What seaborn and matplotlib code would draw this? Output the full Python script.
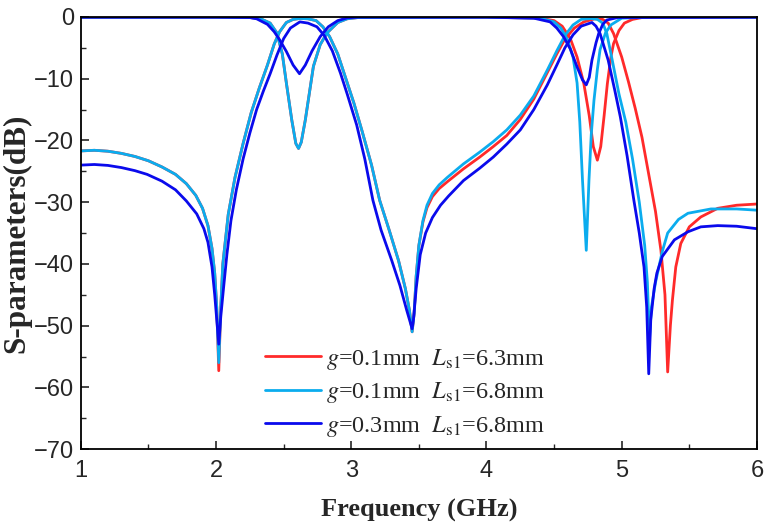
import matplotlib
matplotlib.use("Agg")
import matplotlib.pyplot as plt
import seaborn as sns
import pandas as pd

# ---------------- data ----------------
labels = [r"$g$=0.1mm  $L_{\mathrm{s1}}$=6.3mm",
          r"$g$=0.1mm  $L_{\mathrm{s1}}$=6.8mm",
          r"$g$=0.3mm  $L_{\mathrm{s1}}$=6.8mm"]
colors = ["#FF2A2A", "#0BACEE", "#0A0AEC"]

# g=0.1mm Ls1=6.8mm (light blue)
lb21_f = [1.00, 1.10, 1.20, 1.30, 1.40, 1.50, 1.60, 1.70, 1.78, 1.85, 1.90, 1.94, 1.97, 1.99, 2.005, 2.02,
          2.035, 2.05, 2.09, 2.14, 2.20, 2.26, 2.32, 2.38, 2.43, 2.47, 2.52, 2.57, 2.62, 2.68, 2.74, 2.79,
          2.84, 2.90, 2.96, 3.02, 3.08, 3.15, 3.21, 3.28, 3.35, 3.40, 3.43, 3.45, 3.465, 3.48, 3.50, 3.53,
          3.56, 3.60, 3.65, 3.71, 3.83, 3.95, 4.05, 4.15, 4.25, 4.35, 4.45, 4.52, 4.58, 4.64, 4.70, 4.77,
          4.82, 4.86, 4.89, 4.93, 4.98, 5.03, 5.08, 5.13, 5.17, 5.19, 5.205, 5.22, 5.25, 5.30, 5.34, 5.42,
          5.49, 5.66, 5.85, 6.00]
lb21_db = [-21.7, -21.6, -21.75, -22.1, -22.6, -23.3, -24.3, -25.5, -27.0, -28.9, -31.0, -33.8, -37.5, -41.5, -47.0, -56.0,
           -47.0, -40.0, -32.0, -26.0, -20.5, -15.5, -11.5, -7.8, -4.4, -2.4, -0.9, -0.4, -0.25, -0.3, -0.6, -1.6,
           -3.2, -6.0, -10.0, -14.0, -18.5, -24.0, -29.7, -34.5, -39.5, -44.0, -47.5, -51.0, -48.0, -42.0, -37.0, -33.0,
           -30.5, -28.6, -27.2, -26.0, -23.8, -21.9, -20.2, -18.3, -15.9, -12.8, -8.6, -5.5, -3.0, -1.3, -0.4, -0.25,
           -0.4, -1.0, -2.7, -7.0, -12.5, -17.0, -23.0, -30.0, -37.0, -43.0, -52.4, -47.0, -43.0, -38.0, -35.0, -32.8,
           -31.8, -31.1, -31.1, -31.3]
lb11_f = [1.00, 2.00, 2.25, 2.33, 2.40, 2.45, 2.49, 2.52, 2.56, 2.59, 2.61, 2.63, 2.66, 2.72, 2.77, 2.82,
          2.90, 2.97, 3.05, 4.00, 4.40, 4.50, 4.55, 4.60, 4.64, 4.67, 4.69, 4.71, 4.738, 4.758, 4.775, 4.795,
          4.82, 4.84, 4.88, 4.92, 5.00, 5.20, 6.00]
lb11_db = [-0.05, -0.05, -0.1, -0.3, -1.0, -2.6, -6.0, -10.7, -16.7, -20.5, -21.3, -20.3, -16.7, -8.0, -4.5, -2.6,
           -0.9, -0.3, -0.1, -0.05, -0.2, -0.8, -1.8, -3.7, -6.5, -10.7, -17.0, -26.4, -37.8, -26.4, -19.0, -13.5,
           -8.5, -5.3, -2.6, -1.3, -0.2, -0.05, -0.05]

# g=0.1mm Ls1=6.3mm (red) - below 3.5 GHz hidden under the light-blue traces
rd21_f = [1.00, 1.10, 1.20, 1.30, 1.40, 1.50, 1.60, 1.70, 1.78, 1.85, 1.90, 1.94, 1.97, 1.99, 2.005, 2.02,
          2.035, 2.05, 2.09, 2.14, 2.20, 2.26, 2.32, 2.38, 2.43, 2.47, 2.52, 2.57, 2.62, 2.68, 2.74, 2.79,
          2.84, 2.90, 2.96, 3.02, 3.08, 3.15, 3.21, 3.28, 3.35, 3.40, 3.43, 3.45, 3.465, 3.48, 3.50, 3.53,
          3.56, 3.60, 3.65, 3.71, 3.83, 3.95, 4.05, 4.15, 4.25, 4.35, 4.45, 4.52, 4.58, 4.65, 4.72, 4.80,
          4.86, 4.90, 4.94, 5.00, 5.05, 5.10, 5.15, 5.20, 5.25, 5.29, 5.32, 5.34, 5.36, 5.375, 5.40, 5.437,
          5.50, 5.585, 5.71, 5.85, 6.00]
rd21_db = [-21.7, -21.6, -21.75, -22.1, -22.6, -23.3, -24.3, -25.5, -27.0, -28.9, -31.0, -33.8, -37.5, -41.5, -47.0, -57.3,
           -47.0, -40.0, -32.0, -26.0, -20.5, -15.5, -11.5, -7.8, -4.4, -2.4, -0.9, -0.4, -0.25, -0.3, -0.6, -1.6,
           -3.2, -6.0, -10.0, -14.0, -18.5, -24.0, -29.7, -34.5, -39.5, -44.0, -47.5, -51.0, -48.0, -42.0, -37.0, -33.2,
           -30.9, -29.1, -27.8, -26.7, -24.6, -22.7, -21.0, -19.2, -16.6, -13.3, -9.0, -6.0, -3.6, -1.8, -0.8, -0.3,
           -0.4, -1.0, -2.7, -6.5, -10.5, -14.8, -19.5, -25.5, -31.5, -37.8, -45.0, -57.5, -50.0, -45.9, -40.5, -36.7,
           -34.0, -32.4, -31.0, -30.5, -30.3]
rd11_f = [1.00, 2.00, 2.25, 2.33, 2.40, 2.45, 2.49, 2.52, 2.56, 2.59, 2.61, 2.63, 2.66, 2.72, 2.77, 2.82,
          2.90, 2.97, 3.05, 4.00, 4.40, 4.50, 4.56, 4.62, 4.67, 4.72, 4.76, 4.79, 4.82, 4.845, 4.87, 4.894,
          4.92, 4.94, 4.98, 5.02, 5.08, 5.15, 6.00]
rd11_db = [-0.05, -0.05, -0.1, -0.3, -1.0, -2.6, -6.0, -10.7, -16.7, -20.5, -21.3, -20.3, -16.7, -8.0, -4.5, -2.6,
           -0.9, -0.3, -0.1, -0.05, -0.2, -0.6, -1.5, -3.5, -6.5, -10.8, -16.0, -21.0, -23.2, -21.0, -16.0, -10.8,
           -6.5, -4.3, -2.2, -1.0, -0.4, -0.1, -0.05]

# g=0.3mm Ls1=6.8mm (dark blue)
db21_f = [1.00, 1.10, 1.20, 1.30, 1.40, 1.49, 1.60, 1.70, 1.78, 1.857, 1.91, 1.94, 1.97, 1.99, 2.005, 2.02,
          2.035, 2.054, 2.08, 2.11, 2.15, 2.20, 2.25, 2.30, 2.35, 2.40, 2.45, 2.50, 2.55, 2.62, 2.68, 2.746,
          2.80, 2.86, 2.92, 2.97, 3.04, 3.10, 3.16, 3.22, 3.30, 3.36, 3.41, 3.45, 3.46, 3.48, 3.51, 3.55,
          3.60, 3.66, 3.72, 3.83, 3.95, 4.05, 4.15, 4.25, 4.35, 4.45, 4.52, 4.58, 4.64, 4.70, 4.78, 4.81,
          4.84, 4.90, 4.95, 4.99, 5.04, 5.09, 5.13, 5.165, 5.185, 5.20, 5.215, 5.24, 5.26, 5.30, 5.39, 5.49,
          5.585, 5.71, 5.85, 6.00]
db21_db = [-24.0, -23.9, -24.05, -24.4, -24.9, -25.5, -26.6, -28.0, -29.8, -31.9, -34.3, -36.5, -40.5, -45.0, -49.0, -53.0,
           -48.5, -44.2, -38.5, -33.0, -28.0, -23.0, -18.8, -15.0, -12.0, -9.2, -6.2, -3.5, -1.8, -0.8, -1.0, -1.6,
           -3.0, -5.5, -9.1, -12.5, -17.5, -23.0, -29.7, -34.5, -39.5, -43.5, -47.5, -50.5, -49.0, -44.0, -38.5, -35.0,
           -32.5, -30.5, -29.0, -26.5, -24.5, -22.7, -20.6, -18.3, -15.0, -11.0, -7.8, -5.0, -2.9, -1.5, -0.9, -1.5,
           -2.7, -7.0, -12.0, -16.2, -22.5, -29.7, -35.0, -40.5, -47.0, -57.8, -49.0, -44.0, -41.5, -38.8, -36.1, -34.8,
           -34.0, -33.8, -33.9, -34.3]
db11_f = [1.00, 2.00, 2.25, 2.30, 2.38, 2.43, 2.47, 2.52, 2.57, 2.617, 2.66, 2.71, 2.77, 2.83, 2.90, 2.97,
          3.05, 4.00, 4.35, 4.47, 4.52, 4.57, 4.62, 4.67, 4.71, 4.738, 4.76, 4.78, 4.81, 4.83, 4.86, 4.89,
          4.97, 6.00]
db11_db = [-0.05, -0.05, -0.1, -0.3, -1.2, -2.4, -3.7, -5.6, -7.8, -9.2, -7.8, -5.5, -3.2, -1.6, -0.6, -0.15,
           -0.05, -0.05, -0.2, -0.8, -1.8, -3.2, -5.2, -8.1, -10.2, -11.0, -9.8, -7.0, -4.2, -2.7, -1.2, -0.5,
           -0.1, -0.05]

xticks = [1, 2, 3, 4, 5, 6]
yticks = [0, -10, -20, -30, -40, -50, -60, -70]

# ---------------- plotting ----------------
sns.set_theme(style="white")
plt.rcParams["font.family"] = ["Liberation Sans", "DejaVu Sans"]
plt.rcParams["mathtext.fontset"] = "stix"

fig = plt.figure(figsize=(7.7, 5.29), dpi=100)
ax = fig.add_axes([0.105, 0.151, 0.878, 0.817])

curves = [
    (rd11_f, rd11_db, rd21_f, rd21_db),
    (lb11_f, lb11_db, lb21_f, lb21_db),
    (db11_f, db11_db, db21_f, db21_db),
]
for (f11, s11, f21, s21), col, lab in zip(curves, colors, labels):
    d11 = pd.DataFrame({"f": f11, "s": s11})
    d21 = pd.DataFrame({"f": f21, "s": s21})
    sns.lineplot(data=d11, x="f", y="s", ax=ax, color=col, lw=2.0, sort=False, estimator=None)
    sns.lineplot(data=d21, x="f", y="s", ax=ax, color=col, lw=2.0, sort=False, estimator=None, label=lab)

ax.set_xlim(1, 6)
ax.set_ylim(-70, 0)
ax.set_xticks(xticks)
ax.set_yticks(yticks)
ax.set_xticks([1.5, 2.5, 3.5, 4.5, 5.5], minor=True)
ax.set_yticks([-5, -15, -25, -35, -45, -55, -65], minor=True)
ax.tick_params(axis="both", which="major", direction="in", length=6, width=1.2,
               labelsize=17, bottom=True, left=True, top=False, right=False)
ax.tick_params(axis="x", which="major", pad=8)
ax.tick_params(axis="y", which="major", pad=5)
ax.tick_params(axis="both", which="minor", direction="in", length=3.5, width=1.0,
               bottom=True, left=True, top=False, right=False)
for sp in ax.spines.values():
    sp.set_color("black")
    sp.set_linewidth(1.3)

ax.set_xlabel("Frequency (GHz)", fontsize=19, fontweight="bold",
              family=["Liberation Serif"], labelpad=12)
ax.set_ylabel("S-parameters(dB)", fontsize=22.5, fontweight="bold",
              family=["Liberation Serif"], labelpad=2)

leg = ax.legend(loc="lower left", bbox_to_anchor=(0.24, -0.027), frameon=False,
                prop={"family": "Liberation Serif", "size": 17.5},
                handlelength=2.3, handletextpad=0.2, labelspacing=0.35)
for line in leg.get_lines():
    line.set_linewidth(2.0)

fig.savefig("out.png", dpi=100)
